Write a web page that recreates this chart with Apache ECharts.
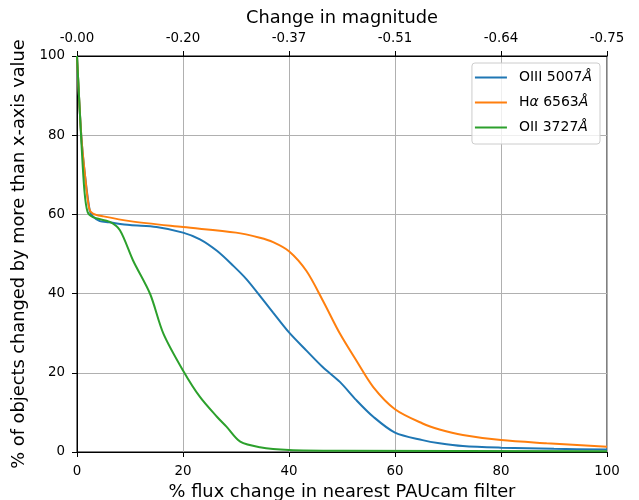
<!DOCTYPE html>
<html>
<head>
<meta charset="utf-8">
<script src="https://cdn.jsdelivr.net/npm/echarts@6/dist/echarts.min.js"></script>
<style>html,body{margin:0;padding:0;background:#fff;}#c{width:639px;height:500px;}</style>
</head>
<body>
<div id="c"></div>
<script>
const seriesNames = ['OIII 5007Å', 'Hα 6563Å', 'OII 3727Å'];
const magTickLabels = ['-0.00', '-0.20', '-0.37', '-0.51', '-0.64', '-0.75'];

const oiiiX = [0, 0.8, 1.5, 2.4, 3, 4.3, 6, 10, 15, 20, 23.2, 26.4, 29.5, 32, 35, 37, 40, 43.3, 46.4, 49.6, 52.7, 55.9, 60, 65.2, 68.4, 72.8, 80, 90, 100];
const oiiiY = [100, 80, 70, 61, 59.5, 58.3, 58, 57.3, 56.8, 55.4, 53.7, 50.8, 47, 43.6, 38.6, 35.2, 30.2, 25.6, 21.4, 17.7, 13.1, 8.9, 4.9, 3.0, 2.2, 1.5, 1.1, 0.8, 0.6];

const haX = [0, 0.8, 1.5, 2.3, 3, 5, 10, 20, 30, 34.5, 37, 40, 43.3, 46.4, 49.6, 52.7, 55.9, 60, 65.2, 68.4, 72.8, 80, 88.6, 100];
const haY = [100, 80, 70, 61.5, 60.2, 59.5, 58.3, 56.8, 55.4, 54.1, 53, 50.7, 45.7, 38.2, 29.9, 23.1, 16.4, 10.8, 7.2, 5.7, 4.3, 3.0, 2.2, 1.3];

const oiiX = [0, 0.8, 1.4, 2, 3, 6.2, 8.1, 10.6, 13.8, 16.3, 20, 23.2, 26.4, 28.2, 30.8, 34.5, 40, 50, 100];
const oiiY = [100, 79, 66, 60.6, 59.3, 58.1, 56, 48.3, 39.9, 29.9, 20.6, 13.9, 8.9, 6.4, 2.6, 1.2, 0.5, 0.3, 0.2];

const colors = ['#1f77b4', '#ff7f0e', '#2ca02c'];
const pairs = (xs, ys) => xs.map((x, i) => [x, ys[i]]);
const FONT = 'DejaVu Sans';
const TICK_FS = 13.4;
const TITLE_FS = 17.8;

const chart = echarts.init(document.getElementById('c'), null, {renderer: 'canvas'});
const baseAxis = function (margin) {
  return {
    type: 'value', min: 0, max: 100, interval: 20,
    axisLine: {show: true, lineStyle: {color: '#000', width: 1}},
    axisTick: {show: true, inside: false, length: 5, lineStyle: {color: '#000'}},
    nameLocation: 'middle',
    nameTextStyle: {fontFamily: FONT, fontSize: TITLE_FS, color: '#000'},
    axisLabel: {fontFamily: FONT, fontSize: TICK_FS, color: '#000', margin: margin}
  };
};
const lineSeries = (name, xs, ys) => ({
  name: name, type: 'line', showSymbol: false, smooth: 0.3,
  lineStyle: {width: 2}, data: pairs(xs, ys)
});

chart.setOption({
  animation: false,
  color: colors,
  grid: {left: 77, right: 32, top: 56, bottom: 48, containLabel: false, outerBoundsMode: 'none',
    show: true, borderColor: '#000', borderWidth: 1},
  legend: {
    orient: 'vertical', right: 39, top: 63,
    backgroundColor: 'rgba(255,255,255,0.8)', borderColor: '#ccc', borderWidth: 1, borderRadius: 3,
    padding: [7, 8, 9, 3], itemGap: 10, itemWidth: 32, itemHeight: 2, icon: 'rect',
    textStyle: {fontFamily: FONT, fontSize: 14, color: '#000', lineHeight: 15, padding: [0, 0, 0, 7],
      rich: {i: {fontFamily: FONT, fontSize: 14, fontStyle: 'italic', color: '#000'}}},
    formatter: function (n) {
      if (n === seriesNames[0]) return 'OIII 5007{i|Å}';
      if (n === seriesNames[1]) return 'H{i|α} 6563{i|Å}';
      return 'OII 3727{i|Å}';
    },
    data: seriesNames
  },
  xAxis: [
    Object.assign(baseAxis(13), {
      position: 'bottom', name: '% flux change in nearest PAUcam filter', nameGap: 29,
      splitLine: {show: true, lineStyle: {color: '#b0b0b0', width: 1}}
    }),
    Object.assign(baseAxis(11), {
      position: 'top', name: 'Change in magnitude', nameGap: 21,
      splitLine: {show: false},
      axisLabel: {fontFamily: FONT, fontSize: TICK_FS, color: '#000', margin: 11,
        formatter: function (v) { return magTickLabels[Math.round(v / 20)]; }}
    })
  ],
  yAxis: Object.assign(baseAxis(12), {
    name: '% of objects changed by more than x-axis value', nameGap: 39,
    splitLine: {show: true, lineStyle: {color: '#b0b0b0', width: 1}}
  }),
  series: [
    lineSeries(seriesNames[0], oiiiX, oiiiY),
    lineSeries(seriesNames[1], haX, haY),
    lineSeries(seriesNames[2], oiiX, oiiY)
  ]
});
</script>
</body>
</html>
